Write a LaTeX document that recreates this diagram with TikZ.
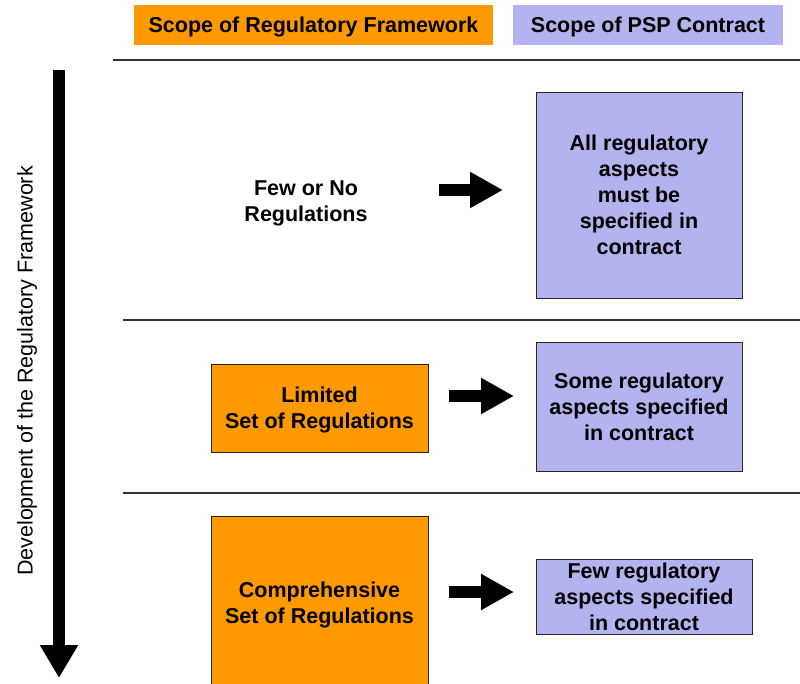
\documentclass[tikz,border=0pt]{standalone}
\usepackage{fontspec}
\setmainfont{Liberation Sans}
\usetikzlibrary{arrows.meta}
\definecolor{regorange}{HTML}{FF9900}
\definecolor{psppurple}{HTML}{B3B3F0}

\begin{document}
\begin{tikzpicture}[x=1pt,y=-1pt,
    txt/.style={font=\fontsize{21.5}{26}\selectfont\bfseries,align=center,inner sep=0pt,text depth=0pt},
    regbox/.style={txt,fill=regorange,draw=black!85,line width=0.9pt},
    pspbox/.style={txt,fill=psppurple,draw=black!85,line width=0.9pt}]

      \fill[white] (0,0) rectangle (800,684);
      \clip (0,0) rectangle (800,684);

      \node[txt,fill=regorange,minimum width=359pt,minimum height=40pt] (h1) at (313.5,25) {Scope of Regulatory Framework};
      \node[txt,fill=psppurple,minimum width=270pt,minimum height=40pt] (h2) at (648,25) {Scope of PSP Contract};

      \coordinate (l1a) at (113,60);  \coordinate (l1b) at (800,60);
      \coordinate (l2a) at (123,320); \coordinate (l2b) at (800,320);
      \coordinate (l3a) at (123,493); \coordinate (l3b) at (800,493);
      \begin{scope}[every path/.style={draw=black!80,line width=1.6pt}]
        \path (l1a) -- (l1b);
        \path (l2a) -- (l2b);
        \path (l3a) -- (l3b);
      \end{scope}

      \coordinate (top) at (59,70);
      \coordinate (bottom) at (59,678);
      \draw[line width=12pt,-{Triangle[length=33pt,width=36pt]}] (top) -- (bottom);
      \node[rotate=90,font=\fontsize{21.5}{26}\selectfont,inner sep=0pt] (dev) at (27,371) {Development of the Regulatory Framework};

      \node[txt] (few) at (306,201) {Few or No\\Regulations};
      \node[regbox,minimum width=217pt,minimum height=88pt] (lim) at (319.5,408) {Limited\\Set of Regulations};
      \node[regbox,minimum width=217pt,minimum height=174pt] (comp) at (319.5,603) {Comprehensive\\Set of Regulations};

      \node[pspbox,minimum width=206pt,minimum height=206pt] (all) at (639,195) {All regulatory\\aspects\\must be\\specified in\\contract};
      \node[pspbox,minimum width=206pt,minimum height=129pt] (some) at (639,406.5) {Some regulatory\\aspects specified\\in contract};
      \node[pspbox,minimum width=216pt,minimum height=75pt] (fewc) at (644,596.5) {Few regulatory\\aspects specified\\in contract};

      \coordinate (s1) at (439,190); \coordinate (t1) at (503,190);
      \coordinate (s2) at (449,396); \coordinate (t2) at (514,396);
      \coordinate (s3) at (449,592); \coordinate (t3) at (514,592);
      \begin{scope}[every edge/.style={draw,line width=12pt,-{Triangle[length=33pt,width=34pt]}}]
        \path (s1) edge (t1);
        \path (s2) edge (t2);
        \path (s3) edge (t3);
      \end{scope}

    \end{tikzpicture}
\end{document}
